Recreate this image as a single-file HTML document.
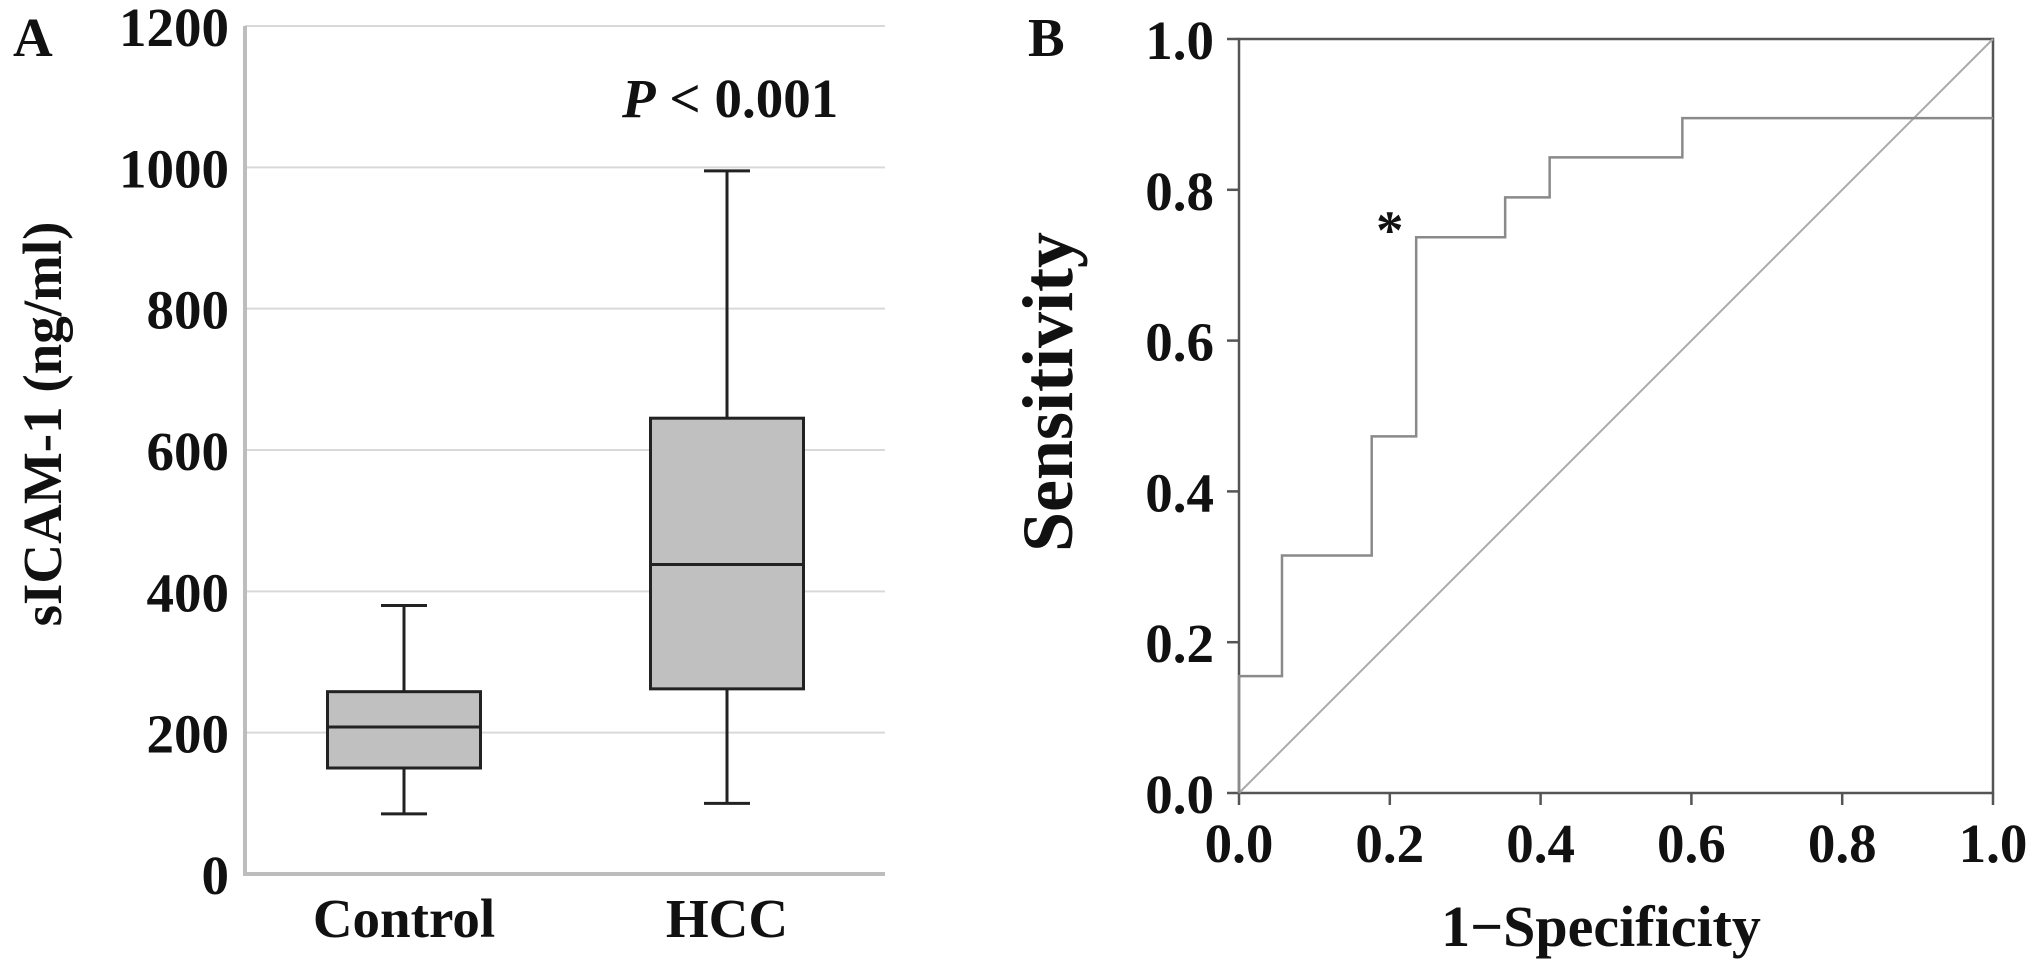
<!DOCTYPE html>
<html><head><meta charset="utf-8"><style>
html,body{margin:0;padding:0;background:#fff;}
svg{display:block;font-family:"Liberation Serif",serif;font-weight:bold;}
</style></head><body>
<svg id="fig" width="2031" height="974" viewBox="0 0 2031 974" xmlns="http://www.w3.org/2000/svg">
<g id="pa"></g>
<g id="pb"></g>
</svg>
<script>
// Panel A data
const groups = ["Control", "HCC"];
const whiskerMin = [85, 100];
const q1 = [150, 262];
const median = [208, 438];
const q3 = [258, 645];
const whiskerMax = [380, 995];
const yTicksA = [0, 200, 400, 600, 800, 1000, 1200];
// Panel B data
const rocFpr = [0, 0, 0.057, 0.057, 0.176, 0.176, 0.235, 0.235, 0.353, 0.353, 0.412, 0.412, 0.588, 0.588, 1.0];
const rocTpr = [0, 0.155, 0.155, 0.315, 0.315, 0.473, 0.473, 0.737, 0.737, 0.79, 0.79, 0.843, 0.843, 0.895, 0.895];
const ticksB = [0.0, 0.2, 0.4, 0.6, 0.8, 1.0];
const cutoffPoint = [0.2, 0.746];

const NS = "http://www.w3.org/2000/svg";
function mk(parent, tag, attrs, text) {
  const e = document.createElementNS(NS, tag);
  for (const k in attrs) e.setAttribute(k, attrs[k]);
  if (text !== undefined) e.textContent = text;
  parent.appendChild(e);
  return e;
}
// ---- Panel A ----
const pa = document.getElementById('pa');
const aX0 = 245, aX1 = 885, aY0 = 874, aY1 = 26;
const yA = v => aY0 - (v / 1200) * (aY0 - aY1);
const xCenters = [404, 727];
const boxW = 153, capW = 46;
yTicksA.forEach(t => {
  if (t > 0) {
    const g = mk(pa, 'line', {x1: aX0, x2: aX1, y1: yA(t), y2: yA(t), stroke: '#d9d9d9', 'stroke-width': 2});
    
    
  }
  const l = mk(pa, 'text', {x: 229, y: yA(t) + 20, 'text-anchor': 'end', 'font-size': 55, fill: '#111'}, String(t));
  
  
});
let ax = mk(pa, 'path', {d: `M${aX0},${aY1} V${aY0} H${aX1}`, stroke: '#bdbdbd', 'stroke-width': 4, fill: 'none'});


groups.forEach((g, i) => {
  const cx = xCenters[i];
  const grp = mk(pa, 'g', {});
  
  
  const st = {stroke: '#222', 'stroke-width': 3};
  mk(grp, 'line', Object.assign({x1: cx, x2: cx, y1: yA(whiskerMax[i]), y2: yA(q3[i])}, st));
  mk(grp, 'line', Object.assign({x1: cx, x2: cx, y1: yA(q1[i]), y2: yA(whiskerMin[i])}, st));
  mk(grp, 'line', Object.assign({x1: cx - capW / 2, x2: cx + capW / 2, y1: yA(whiskerMax[i]), y2: yA(whiskerMax[i])}, st));
  mk(grp, 'line', Object.assign({x1: cx - capW / 2, x2: cx + capW / 2, y1: yA(whiskerMin[i]), y2: yA(whiskerMin[i])}, st));
  mk(grp, 'rect', Object.assign({x: cx - boxW / 2, y: yA(q3[i]), width: boxW, height: yA(q1[i]) - yA(q3[i]), fill: '#c0c0c0'}, st));
  mk(grp, 'line', Object.assign({x1: cx - boxW / 2, x2: cx + boxW / 2, y1: yA(median[i]), y2: yA(median[i])}, st));
  const t = mk(pa, 'text', {x: cx, y: 937, 'text-anchor': 'middle', 'font-size': 55, fill: '#111'}, g);
  
  
});
let t = mk(pa, 'text', {x: 13, y: 56, 'font-size': 55, fill: '#111'}, 'A');


t = mk(pa, 'text', {x: 0, y: 0, 'font-size': 55, 'text-anchor': 'middle', fill: '#111', transform: 'translate(61,424) rotate(-90)'}, 'sICAM-1 (ng/ml)');


t = mk(pa, 'text', {x: 622, y: 117, 'font-size': 55, fill: '#111'});


mk(t, 'tspan', {'font-style': 'italic'}, 'P');
mk(t, 'tspan', {}, ' < 0.001');
// ---- Panel B ----
const pb = document.getElementById('pb');
const bX0 = 1239, bX1 = 1993, bY0 = 793, bY1 = 39;
const xB = v => bX0 + v * (bX1 - bX0);
const yB = v => bY0 - v * (bY0 - bY1);
let r = mk(pb, 'rect', {x: bX0, y: bY1, width: bX1 - bX0, height: bY0 - bY1, fill: 'none', stroke: '#555', 'stroke-width': 2.5});


ticksB.forEach(v => {
  mk(pb, 'line', {x1: xB(v), x2: xB(v), y1: bY0, y2: bY0 + 12, stroke: '#555', 'stroke-width': 2.5});
  mk(pb, 'line', {x1: bX0 - 12, x2: bX0, y1: yB(v), y2: yB(v), stroke: '#555', 'stroke-width': 2.5});
  const xl = mk(pb, 'text', {x: xB(v), y: 862, 'text-anchor': 'middle', 'font-size': 55, fill: '#111'}, v.toFixed(1));
  
  
  const yl = mk(pb, 'text', {x: 1214, y: yB(v) + 20, 'text-anchor': 'end', 'font-size': 55, fill: '#111'}, v.toFixed(1));
  
  
});
let d = mk(pb, 'line', {x1: xB(0), y1: yB(0), x2: xB(1), y2: yB(1), stroke: '#aaa', 'stroke-width': 2});


const pts = rocFpr.map((f, i) => xB(f) + ',' + yB(rocTpr[i])).join(' ');
let roc = mk(pb, 'polyline', {points: pts, fill: 'none', stroke: '#8a8a8a', 'stroke-width': 2.5});


t = mk(pb, 'text', {x: xB(cutoffPoint[0]), y: yB(cutoffPoint[1]) + 18, 'text-anchor': 'middle', 'font-size': 55, fill: '#111'}, '*');


t = mk(pb, 'text', {x: 1028, y: 56, 'font-size': 55, fill: '#111'}, 'B');


t = mk(pb, 'text', {x: 1601, y: 946, 'text-anchor': 'middle', 'font-size': 58, fill: '#111'}, '1\u2212Specificity');


t = mk(pb, 'text', {x: 0, y: 0, 'text-anchor': 'middle', 'font-size': 72, fill: '#111', transform: 'translate(1072,392) rotate(-90)'}, 'Sensitivity');


</script>
</body></html>
